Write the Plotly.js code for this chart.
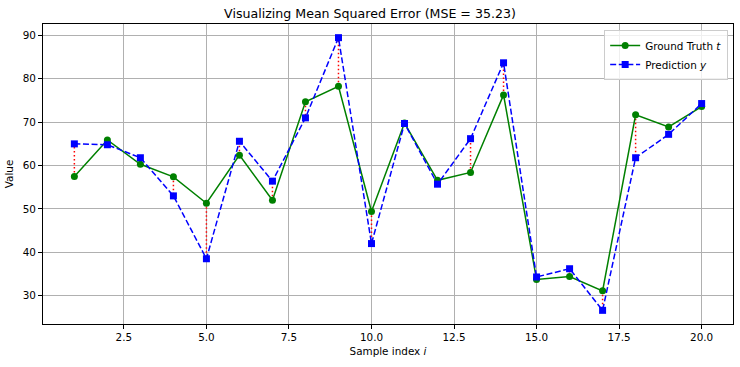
<!DOCTYPE html>
<html><head><meta charset="utf-8">
<script src="https://cdn.plot.ly/plotly-3.0.1.min.js"></script>
<style>html,body{margin:0;padding:0;background:#fff}#chart{width:740px;height:367px}</style>
</head><body><div id="chart"></div>
<script>
const sampleIndex = [1,2,3,4,5,6,7,8,9,10,11,12,13,14,15,16,17,18,19,20];
const groundTruth = [57.5,65.9,60.3,57.4,51.3,62.4,52.0,74.7,78.3,49.4,69.8,56.6,58.4,76.3,33.7,34.4,31.1,71.7,68.9,73.6];
const prediction = [65.0,64.8,61.8,53.0,38.5,65.6,56.4,71.0,89.5,42.0,69.7,55.7,66.2,83.7,34.3,36.2,26.6,61.8,67.2,74.3];
const titleText = "Visualizing Mean Squared Error (MSE = 35.23)";

const ex = [], ey = [];
sampleIndex.forEach((x,i)=>{ ex.push(x,x,null); ey.push(groundTruth[i],prediction[i],null); });

const font = {family:"DejaVu Sans, sans-serif", size:10.4, color:"#000"};
const traces = [
  {x:ex, y:ey, mode:"lines", line:{color:"#ff0000", width:1.5, dash:"1.5px,2.5px"}, showlegend:false, hoverinfo:"skip"},
  {x:sampleIndex, y:groundTruth, mode:"lines+markers", name:"Ground Truth <i>t</i>",
   line:{color:"#008000", width:1.5}, marker:{symbol:"circle", size:7, color:"#008000"}},
  {x:sampleIndex, y:prediction, mode:"lines+markers", name:"Prediction <i>y</i>",
   line:{color:"#0000ff", width:1.5, dash:"6px,2.6px"}, marker:{symbol:"square", size:7, color:"#0000ff"}}
];
const axisCommon = {showline:true, mirror:true, linecolor:"#000", linewidth:1, ticks:"outside", ticklen:4, tickcolor:"#000",
  showgrid:true, gridcolor:"#b0b0b0", gridwidth:1, zeroline:false, tickfont:font};
const layout = {
  width:740, height:367, margin:{l:43, r:7, t:24, b:43},
  paper_bgcolor:"#fff", plot_bgcolor:"#fff", font:font,
  title:{text:titleText, font:{family:"DejaVu Sans, sans-serif", size:12.6, color:"#000"}, x:0.5, xanchor:"center", y:0.962, yanchor:"middle"},
  xaxis:Object.assign({}, axisCommon, {range:[0.05,20.95], tick0:0, dtick:2.5, tickformat:".1f",
    title:{text:"Sample index <i>i</i>", font:font, standoff:5}}),
  yaxis:Object.assign({}, axisCommon, {range:[23.45,92.65], tick0:0, dtick:10,
    title:{text:"Value", font:font, standoff:7}}),
  legend:{x:0.993, y:0.98, xanchor:"right", yanchor:"top", bgcolor:"rgba(255,255,255,0.8)", bordercolor:"#cccccc", borderwidth:1,
    font:font, tracegroupgap:0, itemwidth:30}
};
Plotly.newPlot("chart", traces, layout, {displayModeBar:false, staticPlot:true});
</script></body></html>
